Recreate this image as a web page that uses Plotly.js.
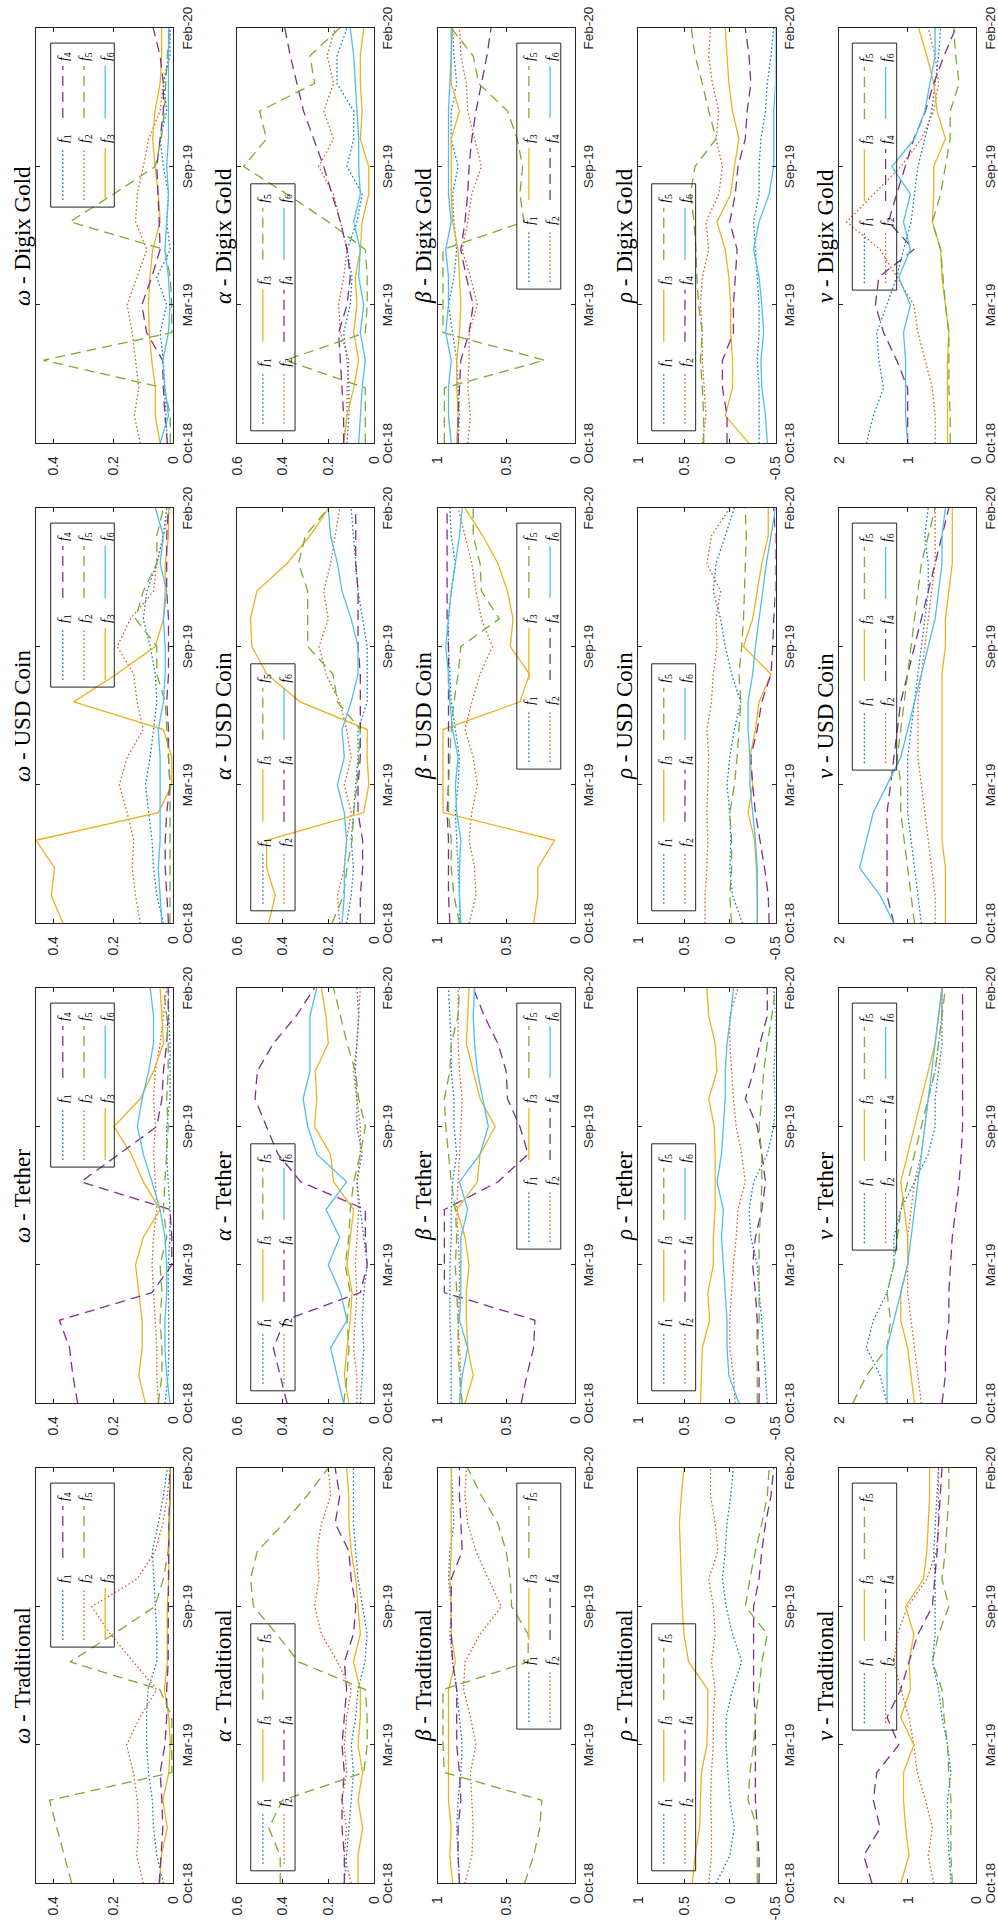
<!DOCTYPE html>
<html><head><meta charset="utf-8">
<script src="https://cdn.plot.ly/plotly-3.0.1.min.js"></script>
<style>
html,body{margin:0;padding:0;background:#fff;width:998px;height:1921px;overflow:hidden}
#fig{position:absolute;left:0;top:0;width:1921px;height:998px;transform-origin:0 0;transform:translate(0px,1921px) rotate(-90deg)}
</style></head><body><div id="fig"></div>
<script>
// ---------- data ----------
const periods = [1,2,3,4,5,6,7,8,9,10,11,12,13,14,15,16];
const periodTickPos = [1,6,11,16];
const periodTickText = ['Oct-18','Mar-19','Sep-19','Feb-20'];
const assets = ['Traditional','Tether','USD Coin','Digix Gold'];
const params = ['ω','α','β','ρ','ν'];

const omegaTicks = [0,0.2,0.4], omegaTickText = ['0','0.2','0.4'];
const alphaTicks = [0,0.2,0.4,0.6], alphaTickText = ['0','0.2','0.4','0.6'];
const betaTicks = [0,0.5,1], betaTickText = ['0','0.5','1'];
const rhoTicks = [-0.5,0,0.5,1], rhoTickText = ['-0.5','0','0.5','1'];
const nuTicks = [0,1,2], nuTickText = ['0','1','2'];

// omega
const omegaTraditional = [
 [0.033,0.055,0.066,0.07,0.083,0.089,0.089,0.085,0.055,0.055,0.06,0.065,0.07,0.05,0.033,0.02],
 [0.1,0.122,0.115,0.12,0.133,0.156,0.111,0.055,0.133,0.21,0.272,0.12,0.06,0.035,0.02,0.01],
 [0.045,0.04,0.02,0.035,0.015,0.01,0.015,0.03,0.02,0.02,0.02,0.015,0.015,0.012,0.01,0.01],
 [0.047,0.04,0.035,0.038,0.044,0.028,0.022,0.022,0.017,0.017,0.017,0.015,0.015,0.015,0.012,0.012],
 [0.339,0.363,0.389,0.413,0.005,0.005,0.005,0.045,0.344,0.2,0.061,0.033,0.017,0.015,0.01,0.01]];
const omegaTether = [
 [0.028,0.017,0.015,0.015,0.015,0.017,0.011,0.011,0.017,0.022,0.022,0.011,0.011,0.011,0.015,0.017],
 [0.05,0.055,0.055,0.06,0.066,0.071,0.066,0.055,0.06,0.066,0.06,0.066,0.06,0.044,0.033,0.022],
 [0.093,0.115,0.104,0.104,0.115,0.126,0.1,0.044,0.1,0.14,0.198,0.11,0.066,0.033,0.038,0.044],
 [0.319,0.335,0.346,0.38,0.071,0.005,0.005,0.011,0.308,0.18,0.055,0.038,0.033,0.022,0.017,0.017],
 [0.05,0.038,0.038,0.044,0.038,0.044,0.022,0.033,0.028,0.022,0.017,0.022,0.017,0.017,0.022,0.033],
 [0.011,0.022,0.028,0.028,0.022,0.022,0.028,0.044,0.071,0.1,0.12,0.104,0.082,0.066,0.066,0.077]];
const omegaUSDCoin = [
 [0.033,0.055,0.066,0.071,0.082,0.093,0.077,0.066,0.055,0.06,0.077,0.1,0.088,0.055,0.033,0.022],
 [0.11,0.126,0.137,0.132,0.154,0.18,0.154,0.1,0.121,0.132,0.187,0.143,0.066,0.055,0.033,0.011],
 [0.368,0.407,0.396,0.458,0.05,0.005,0.005,0.033,0.332,0.19,0.06,0.033,0.027,0.027,0.016,0.016],
 [0.016,0.022,0.027,0.027,0.022,0.011,0.016,0.016,0.022,0.016,0.016,0.016,0.022,0.022,0.022,0.016],
 [0.011,0.011,0.011,0.011,0.011,0.011,0.016,0.022,0.027,0.055,0.055,0.126,0.1,0.055,0.055,0.033],
 [0.038,0.044,0.05,0.044,0.044,0.044,0.044,0.05,0.033,0.027,0.027,0.033,0.022,0.044,0.033,0.06]];
const omegaDigixGold = [
 [0.02,0.025,0.03,0.033,0.044,0.022,0.055,0.01,0.022,0.016,0.033,0.044,0.022,0.033,0.011,0.011],
 [0.11,0.13,0.115,0.126,0.137,0.154,0.12,0.088,0.126,0.12,0.1,0.082,0.044,0.033,0.016,0.011],
 [0.044,0.06,0.06,0.072,0.08,0.083,0.078,0.069,0.044,0.05,0.061,0.069,0.061,0.044,0.039,0.039],
 [0.02,0.028,0.033,0.036,0.089,0.105,0.072,0.044,0.047,0.05,0.055,0.044,0.033,0.033,0.044,0.067],
 [0.01,0.01,0.03,0.433,0.005,0.005,0.01,0.028,0.345,0.2,0.06,0.04,0.03,0.025,0.02,0.01],
 [0.044,0.016,0.028,0.035,0.016,0.011,0.016,0.028,0.022,0.016,0.022,0.016,0.016,0.016,0.016,0.016]];
// alpha
const alphaTraditional = [
 [0.13,0.12,0.11,0.1,0.09,0.1,0.08,0.07,0.04,0.03,0.05,0.07,0.08,0.09,0.09,0.09],
 [0.1,0.13,0.12,0.14,0.12,0.13,0.12,0.1,0.16,0.23,0.26,0.24,0.25,0.23,0.19,0.2],
 [0.07,0.07,0.05,0.07,0.05,0.07,0.06,0.06,0.09,0.06,0.07,0.08,0.1,0.11,0.11,0.12],
 [0.13,0.13,0.14,0.14,0.13,0.14,0.13,0.12,0.13,0.09,0.08,0.1,0.11,0.17,0.15,0.17],
 [0.41,0.41,0.46,0.4,0.045,0.03,0.03,0.038,0.33,0.425,0.527,0.54,0.51,0.395,0.293,0.2]];
const alphaTether = [
 [0.06,0.052,0.045,0.052,0.045,0.03,0.045,0.06,0.075,0.052,0.075,0.075,0.082,0.075,0.067,0.075],
 [0.075,0.075,0.09,0.082,0.075,0.082,0.075,0.067,0.075,0.06,0.06,0.075,0.09,0.075,0.067,0.06],
 [0.11,0.13,0.118,0.104,0.096,0.118,0.104,0.089,0.177,0.19,0.26,0.25,0.257,0.2,0.21,0.23],
 [0.38,0.41,0.44,0.39,0.06,0.03,0.038,0.038,0.32,0.42,0.47,0.52,0.51,0.44,0.34,0.26],
 [0.133,0.118,0.11,0.118,0.104,0.126,0.11,0.104,0.089,0.06,0.038,0.067,0.082,0.118,0.147,0.177],
 [0.133,0.162,0.19,0.118,0.147,0.2,0.15,0.21,0.12,0.25,0.29,0.31,0.28,0.28,0.28,0.25]];
const alphaUSDCoin = [
 [0.12,0.1,0.09,0.1,0.09,0.08,0.07,0.07,0.03,0.03,0.03,0.05,0.07,0.08,0.09,0.1],
 [0.15,0.16,0.13,0.12,0.1,0.13,0.1,0.12,0.15,0.21,0.24,0.2,0.22,0.19,0.17,0.15],
 [0.461,0.432,0.469,0.469,0.045,0.023,0.03,0.03,0.323,0.469,0.534,0.54,0.512,0.38,0.28,0.198],
 [0.06,0.06,0.05,0.05,0.07,0.07,0.06,0.06,0.06,0.06,0.07,0.07,0.07,0.08,0.08,0.08],
 [0.184,0.133,0.118,0.096,0.089,0.075,0.067,0.06,0.16,0.18,0.29,0.29,0.29,0.33,0.3,0.2],
 [0.14,0.13,0.13,0.12,0.13,0.16,0.13,0.14,0.1,0.07,0.07,0.1,0.14,0.16,0.19,0.2]];
const alphaDigixGold = [
 [0.118,0.11,0.11,0.118,0.133,0.104,0.096,0.118,0.075,0.052,0.118,0.089,0.089,0.162,0.162,0.118],
 [0.133,0.118,0.118,0.11,0.147,0.155,0.133,0.118,0.147,0.177,0.242,0.177,0.22,0.177,0.205,0.17],
 [0.133,0.118,0.089,0.067,0.089,0.075,0.082,0.06,0.052,0.023,0.023,0.06,0.052,0.06,0.06,0.045],
 [0.133,0.133,0.14,0.147,0.155,0.118,0.104,0.118,0.147,0.184,0.22,0.264,0.308,0.337,0.366,0.39],
 [0.038,0.038,0.038,0.388,0.038,0.03,0.03,0.038,0.2,0.38,0.57,0.47,0.5,0.26,0.28,0.15],
 [0.067,0.06,0.052,0.038,0.06,0.045,0.067,0.06,0.089,0.06,0.067,0.067,0.075,0.082,0.089,0.104]];
// beta
const betaTraditional = [
 [0.84,0.85,0.86,0.85,0.83,0.82,0.84,0.86,0.89,0.91,0.9,0.92,0.91,0.88,0.89,0.9],
 [0.8,0.75,0.74,0.75,0.76,0.72,0.76,0.81,0.8,0.69,0.535,0.63,0.72,0.78,0.8,0.79],
 [0.89,0.91,0.9,0.92,0.92,0.92,0.92,0.92,0.87,0.9,0.9,0.91,0.9,0.9,0.9,0.9],
 [0.84,0.85,0.85,0.83,0.84,0.86,0.86,0.86,0.89,0.9,0.9,0.9,0.82,0.83,0.84,0.84],
 [0.365,0.3,0.255,0.24,0.95,0.96,0.96,0.96,0.34,0.34,0.46,0.47,0.5,0.56,0.68,0.78]];
const betaTether = [
 [0.9,0.9,0.9,0.91,0.91,0.91,0.9,0.9,0.89,0.86,0.88,0.88,0.9,0.9,0.91,0.92],
 [0.84,0.83,0.84,0.85,0.84,0.84,0.85,0.86,0.85,0.84,0.83,0.82,0.84,0.85,0.85,0.85],
 [0.8,0.74,0.78,0.79,0.79,0.77,0.8,0.86,0.71,0.69,0.58,0.69,0.74,0.79,0.78,0.77],
 [0.39,0.35,0.3,0.29,0.95,0.95,0.95,0.95,0.56,0.34,0.4,0.49,0.5,0.56,0.66,0.74],
 [0.82,0.84,0.85,0.85,0.86,0.87,0.86,0.87,0.9,0.92,0.94,0.95,0.91,0.9,0.85,0.84],
 [0.84,0.82,0.78,0.84,0.83,0.83,0.83,0.78,0.84,0.69,0.63,0.67,0.71,0.73,0.74,0.73]];
const betaUSDCoin = [
 [0.84,0.84,0.85,0.86,0.87,0.85,0.84,0.87,0.9,0.91,0.92,0.92,0.9,0.87,0.9,0.91],
 [0.77,0.72,0.73,0.77,0.75,0.71,0.74,0.8,0.75,0.69,0.6,0.68,0.72,0.75,0.8,0.85],
 [0.3,0.27,0.27,0.146,0.96,0.96,0.96,0.96,0.4,0.33,0.47,0.45,0.49,0.56,0.67,0.8],
 [0.91,0.92,0.92,0.92,0.93,0.92,0.92,0.92,0.92,0.92,0.92,0.93,0.93,0.93,0.93,0.93],
 [0.84,0.88,0.9,0.9,0.92,0.92,0.91,0.9,0.88,0.85,0.83,0.55,0.68,0.69,0.74,0.74],
 [0.83,0.84,0.84,0.83,0.86,0.87,0.85,0.89,0.91,0.92,0.94,0.92,0.9,0.87,0.84,0.82]];
const betaDigixGold = [
 [0.85,0.84,0.85,0.86,0.89,0.92,0.88,0.86,0.88,0.89,0.85,0.9,0.9,0.86,0.88,0.89],
 [0.78,0.76,0.78,0.77,0.77,0.71,0.76,0.82,0.78,0.75,0.68,0.73,0.78,0.79,0.83,0.84],
 [0.86,0.85,0.86,0.86,0.84,0.83,0.84,0.85,0.89,0.9,0.9,0.9,0.84,0.9,0.9,0.89],
 [0.85,0.85,0.84,0.83,0.77,0.74,0.79,0.83,0.8,0.78,0.77,0.75,0.72,0.68,0.64,0.61],
 [0.95,0.95,0.95,0.22,0.96,0.96,0.96,0.96,0.37,0.4,0.38,0.42,0.49,0.7,0.74,0.9],
 [0.9,0.92,0.92,0.9,0.94,0.92,0.92,0.94,0.9,0.92,0.92,0.92,0.92,0.91,0.9,0.9]];
// rho
const rhoTraditional = [
 [0.15,0.0,-0.05,0.0,0.02,0.04,0.04,-0.03,-0.13,-0.03,0.04,0.08,0.05,0.03,-0.01,-0.04],
 [0.23,0.2,0.2,0.21,0.2,0.18,0.18,0.16,0.2,0.16,0.18,0.23,0.13,0.16,0.21,0.21],
 [0.41,0.38,0.33,0.32,0.31,0.25,0.24,0.24,0.45,0.5,0.52,0.53,0.54,0.55,0.53,0.5],
 [-0.32,-0.32,-0.3,-0.28,-0.28,-0.28,-0.28,-0.26,-0.26,-0.26,-0.26,-0.32,-0.35,-0.39,-0.45,-0.48],
 [-0.3,-0.3,-0.3,-0.2,-0.22,-0.26,-0.28,-0.32,-0.35,-0.41,-0.17,-0.22,-0.28,-0.35,-0.41,-0.43]];
const rhoTether = [
 [-0.41,-0.39,-0.37,-0.35,-0.32,-0.3,-0.23,-0.21,-0.26,-0.41,-0.48,-0.5,-0.48,-0.5,-0.5,-0.48],
 [-0.06,-0.04,0.0,0.0,-0.02,-0.04,-0.07,-0.09,-0.17,-0.13,-0.07,-0.04,-0.02,0.0,0.0,-0.09],
 [0.32,0.31,0.3,0.22,0.24,0.18,0.18,0.16,0.16,0.16,0.17,0.23,0.14,0.16,0.23,0.25],
 [-0.32,-0.32,-0.3,-0.3,-0.28,-0.25,-0.28,-0.35,-0.39,-0.35,-0.3,-0.17,-0.26,-0.33,-0.41,-0.41],
 [-0.3,-0.3,-0.3,-0.32,-0.32,-0.32,-0.32,-0.34,-0.35,-0.35,-0.32,-0.35,-0.37,-0.41,-0.46,-0.5],
 [-0.1,0.01,0.03,0.03,0.05,0.07,0.09,0.07,0.14,0.09,0.07,0.05,0.05,0.03,-0.01,-0.04]];
const rhoUSDCoin = [
 [-0.14,-0.03,0.0,-0.01,0.0,0.03,0.0,-0.05,-0.12,-0.02,0.05,0.1,0.18,0.15,0.05,-0.05],
 [0.27,0.27,0.25,0.24,0.25,0.24,0.23,0.25,0.2,0.18,0.14,0.15,0.1,0.25,0.2,0.0],
 [-0.3,-0.3,-0.29,-0.27,-0.2,-0.25,-0.22,-0.28,-0.32,-0.45,-0.15,-0.25,-0.3,-0.35,-0.42,-0.42],
 [-0.43,-0.42,-0.38,-0.33,-0.28,-0.25,-0.23,-0.3,-0.35,-0.45,-0.47,-0.48,-0.5,-0.5,-0.5,-0.48],
 [-0.02,0.0,-0.02,-0.02,0.0,-0.05,-0.08,-0.1,-0.12,-0.1,-0.13,-0.15,-0.16,-0.17,-0.18,-0.17],
 [-0.3,-0.3,-0.3,-0.28,-0.25,-0.22,-0.22,-0.2,-0.2,-0.25,-0.28,-0.32,-0.36,-0.4,-0.45,-0.5]];
const rhoDigixGold = [
 [-0.32,-0.32,-0.32,-0.3,-0.32,-0.32,-0.3,-0.28,-0.26,-0.32,-0.32,-0.34,-0.39,-0.41,-0.45,-0.48],
 [0.3,0.26,0.28,0.3,0.3,0.32,0.3,0.23,0.26,0.12,0.08,0.15,0.12,0.19,0.23,0.21],
 [-0.21,0.05,-0.03,-0.03,-0.01,-0.01,0.01,0.05,0.14,-0.01,-0.05,-0.1,-0.03,0.01,0.03,0.05],
 [0.03,0.03,0.08,0.08,-0.04,-0.04,-0.06,-0.08,0.0,-0.06,-0.09,-0.17,-0.19,-0.23,-0.21,-0.17],
 [0.285,0.285,0.3,0.32,0.3,0.34,0.36,0.37,0.39,0.43,0.38,0.15,0.23,0.3,0.38,0.42],
 [-0.41,-0.39,-0.35,-0.34,-0.37,-0.35,-0.32,-0.26,-0.32,-0.43,-0.48,-0.48,-0.48,-0.5,-0.5,-0.5]];
// nu
const nuTraditional = [
 [0.37,0.4,0.42,0.42,0.37,0.42,0.5,0.55,0.64,0.6,0.6,0.6,0.62,0.6,0.58,0.55],
 [0.62,0.7,0.64,0.74,0.86,0.91,0.98,1.1,1.2,1.15,1.0,0.72,0.58,0.55,0.55,0.55],
 [1.1,0.98,1.03,1.06,1.06,0.91,1.1,0.96,0.98,0.91,1.03,0.77,0.72,0.7,0.68,0.68],
 [1.52,1.64,1.4,1.5,1.45,1.13,1.3,1.1,0.98,0.85,0.64,0.6,0.57,0.55,0.52,0.5],
 [0.35,0.37,0.37,0.37,0.4,0.42,0.47,0.5,0.64,0.55,0.4,0.5,0.45,0.42,0.4,0.4]];
const nuTether = [
 [1.3,1.4,1.6,1.5,1.3,1.2,1.2,1.1,0.9,0.7,0.6,0.6,0.55,0.5,0.5,0.5],
 [0.8,0.85,0.9,0.95,1.0,1.0,1.0,0.95,0.9,0.8,0.75,0.7,0.6,0.55,0.5,0.5],
 [0.9,0.95,1.0,1.1,1.1,1.0,1.0,1.05,1.1,1.0,0.9,0.8,0.7,0.6,0.55,0.5],
 [0.5,0.45,0.45,0.4,0.4,0.38,0.35,0.3,0.25,0.22,0.2,0.2,0.2,0.2,0.2,0.2],
 [1.8,1.6,1.3,1.25,1.3,1.2,1.15,1.1,1.0,0.9,0.8,0.7,0.6,0.55,0.5,0.45],
 [1.3,1.3,1.3,1.2,1.1,1.0,0.95,0.9,0.85,0.8,0.75,0.7,0.65,0.6,0.55,0.5]];
const nuUSDCoin = [
 [0.8,0.85,0.9,0.95,1.0,1.0,1.0,0.95,0.9,0.85,0.8,0.75,0.7,0.7,0.75,0.7],
 [0.6,0.6,0.65,0.7,0.75,0.8,0.85,0.85,0.85,0.8,0.75,0.7,0.65,0.6,0.6,0.6],
 [0.45,0.45,0.45,0.5,0.5,0.5,0.5,0.5,0.5,0.5,0.45,0.45,0.4,0.35,0.35,0.35],
 [1.2,1.3,1.3,1.3,1.3,1.25,1.2,1.15,1.1,1.0,0.9,0.8,0.7,0.6,0.5,0.4],
 [0.9,0.95,1.0,1.05,1.1,1.1,1.15,1.1,1.05,1.0,0.95,0.9,0.85,0.8,0.7,0.6],
 [1.2,1.4,1.7,1.6,1.5,1.3,1.1,1.0,0.9,0.8,0.7,0.6,0.55,0.5,0.5,0.45]];
const nuDigixGold = [
 [1.6,1.5,1.35,1.42,1.45,1.3,1.16,1.06,0.95,0.9,0.85,0.75,0.65,0.6,0.55,0.52],
 [0.6,0.6,0.64,0.75,0.85,0.91,1.15,1.4,1.89,1.5,1.1,0.8,0.62,0.55,0.6,0.7],
 [0.42,0.42,0.42,0.42,0.4,0.45,0.5,0.52,0.64,0.62,0.62,0.45,0.57,0.62,0.72,0.84],
 [1.0,1.0,1.0,1.16,1.35,1.47,1.42,0.91,1.28,1.16,1.03,0.91,0.74,0.62,0.47,0.3],
 [0.38,0.38,0.4,0.4,0.4,0.45,0.48,0.52,0.64,0.52,0.45,0.38,0.38,0.25,0.3,0.33],
 [1.0,1.03,1.03,1.03,1.06,0.96,1.13,0.96,1.06,0.96,1.23,0.9,0.75,0.67,0.6,0.6]];

// ---------- layout ----------
const FW = 1921, FH = 998;
const colX0 = [37.7, 517.7, 997.7, 1477.7], PW = 415.2;
const rowY0 = [36, 236.75, 437.5, 638.25, 839], PH = 137.3;
const panelData = [
  [omegaTraditional, omegaTether, omegaUSDCoin, omegaDigixGold],
  [alphaTraditional, alphaTether, alphaUSDCoin, alphaDigixGold],
  [betaTraditional, betaTether, betaUSDCoin, betaDigixGold],
  [rhoTraditional, rhoTether, rhoUSDCoin, rhoDigixGold],
  [nuTraditional, nuTether, nuUSDCoin, nuDigixGold]];
const rowRange = [[0,0.458],[0,0.6],[0,1],[-0.5,1],[0,2]];
const rowTicks = [[omegaTicks,omegaTickText],[alphaTicks,alphaTickText],[betaTicks,betaTickText],[rhoTicks,rhoTickText],[nuTicks,nuTickText]];
const colors = ['#0072BD','#D95319','#EDB120','#7E2F8E','#77AC30','#4DBEEE'];
const dashes = ['1.5px,2.5px','1.5px,2.5px','solid','10px,6px','10px,6px','solid'];
const axisCol = '#262626';

function legendBox(r, px0, px1, py0, py1) {
  if (r === 0) return {cols:2, x0:px1-15-164, x1:px1-15, y0:py0+14.7, y1:py0+14.7+63.6};
  if (r === 1) return {cols:3, x0:px0+12.5, x1:px0+12.5+247, y0:py0+14, y1:py0+14+44.3};
  if (r === 2) return {cols:3, x0:px1-15-246, x1:px1-15, y0:py1-14-44, y1:py1-14};
  if (r === 3) return {cols:3, x0:px0+12.5, x1:px0+12.5+247, y0:py0+13.4, y1:py0+13.4+44};
  return {cols:3, x0:px1-15-247, x1:px1-15, y0:py0+13.3, y1:py0+13.3+44.4};
}

const traces = [], shapes = [], annotations = [];
const layout = {width:FW, height:FH, margin:{l:0,r:0,t:0,b:0}, paper_bgcolor:'#fff', plot_bgcolor:'#fff', showlegend:true};
let legendCount = 0;
for (let r = 0; r < 5; r++) {
  for (let c = 0; c < 4; c++) {
    const k = r*4 + c + 1;
    const px0 = colX0[c], px1 = colX0[c] + PW, py0 = rowY0[r], py1 = rowY0[r] + PH;
    const xa = k === 1 ? 'xaxis' : 'xaxis' + k, ya = k === 1 ? 'yaxis' : 'yaxis' + k;
    const xr = k === 1 ? 'x' : 'x' + k, yr = k === 1 ? 'y' : 'y' + k;
    const common = {ticks:'inside', ticklen:4, tickwidth:1, tickcolor:axisCol, showline:true, linecolor:axisCol, linewidth:1,
      mirror:'ticks', showgrid:false, zeroline:false, fixedrange:true};
    layout[xa] = Object.assign({}, common, {domain:[px0/FW, px1/FW], anchor:yr, range:[1,16], tickmode:'array',
      tickvals:periodTickPos, ticktext:periodTickText, ticklabelstandoff:1,
      tickfont:{family:'Liberation Sans, Arial, sans-serif', size:13.5, color:axisCol}});
    layout[ya] = Object.assign({}, common, {domain:[1 - py1/FH, 1 - py0/FH], anchor:xr, range:rowRange[r], tickmode:'array',
      tickvals:rowTicks[r][0], ticktext:rowTicks[r][1], ticklabelstandoff:9,
      tickfont:{family:'Liberation Sans, Arial, sans-serif', size:14, color:axisCol}});
    annotations.push({xref:'paper', yref:'paper', x:(px0+px1)/2/FW, y:1 - py0/FH, xanchor:'center', yanchor:'bottom', yshift:-1,
      showarrow:false, text:'<i>' + params[r] + '</i> - ' + assets[c],
      font:{family:'Liberation Serif, Times New Roman, serif', size:23, color:'#000'}});
    const box = legendBox(r, px0, px1, py0, py1);
    shapes.push({type:'rect', xref:'paper', yref:'paper', x0:box.x0/FW, x1:box.x1/FW, y0:1 - box.y1/FH, y1:1 - box.y0/FH,
      line:{color:axisCol, width:1}, fillcolor:'rgba(0,0,0,0)', layer:'above'});
    const series = panelData[r][c];
    const perCol = box.cols === 2 ? 3 : 2;
    const legIds = [];
    const nCols = Math.ceil(series.length / perCol);
    for (let q = 0; q < nCols; q++) {
      legendCount++;
      const id = legendCount === 1 ? 'legend' : 'legend' + legendCount;
      legIds.push(id);
      layout[id] = {x:(box.x0 + 2 + 82*q)/FW, y:1 - (box.y0 - 3.5)/FH, xanchor:'left', yanchor:'top',
        bgcolor:'rgba(0,0,0,0)', borderwidth:0, itemwidth:52, tracegroupgap:0, orientation:'v',
        font:{family:'Liberation Serif, Times New Roman, serif', size:14, color:'#000'}};
    }
    series.forEach((vals, s) => {
      traces.push({type:'scatter', mode:'lines', x:periods, y:vals, xaxis:xr, yaxis:yr,
        name:'<i>f</i><sub>' + (s+1) + '</sub>', legend:legIds[Math.floor(s/perCol)], showlegend:true,
        line:{color:colors[s], width:1.3, dash:dashes[s]}, hoverinfo:'skip'});
    });
  }
}
layout.shapes = shapes;
layout.annotations = annotations;
Plotly.newPlot('fig', traces, layout, {staticPlot:true, displayModeBar:false});
</script></body></html>
